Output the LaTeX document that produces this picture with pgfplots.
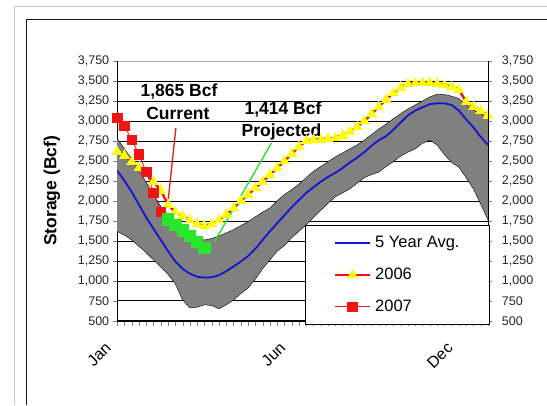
\documentclass[border=0pt]{standalone}
\usepackage{pgfplots}
\pgfplotsset{compat=1.18}
\usepackage{pgfplotstable}
\usepgfplotslibrary{fillbetween}
\usepackage{fontspec}
\setmainfont{Liberation Sans}

\definecolor{bandgray}{RGB}{128,128,128}
\definecolor{avgblue}{RGB}{20,20,210}
\definecolor{sred}{RGB}{240,20,20}
\definecolor{syellow}{RGB}{255,255,0}
\definecolor{sgreen}{RGB}{40,230,40}

% weekly storage, Bcf
\pgfplotstableread{
w  avg   y06   mx    mn
0  2380  2617  2780  1617
1  2250  2570  2650  1570
2  2110  2490  2520  1510
3  1950  2420  2380  1430
4  1790  2340  2230  1350
5  1650  2240  2080  1260
6  1510  2130  1930  1170
7  1370  1950  1820  1080
8  1240  1860  1730  960
9  1150  1810  1660  760
10 1090  1760  1590  660
11 1050  1710  1540  670
12 1040  1690  1510  700
13 1045  1710  1530  690
14 1070  1760  1560  650
15 1120  1830  1600  700
16 1180  1910  1640  760
17 1240  2000  1690  840
18 1310  2080  1740  910
19 1400  2160  1800  1020
20 1510  2240  1860  1150
21 1620  2330  1910  1260
22 1720  2410  2000  1370
23 1820  2500  2080  1440
24 1920  2590  2140  1540
25 2010  2680  2210  1620
26 2100  2750  2290  1700
27 2170  2770  2370  1790
28 2240  2770  2430  1880
29 2300  2780  2490  1970
30 2350  2790  2550  2050
31 2410  2820  2600  2100
32 2480  2866  2650  2150
33 2540  2930  2700  2220
34 2610  3000  2760  2290
35 2690  3090  2830  2330
36 2760  3180  2900  2360
37 2810  3270  2960  2430
38 2890  3350  3030  2490
39 2980  3420  3090  2560
40 3070  3465  3150  2610
41 3130  3475  3200  2650
42 3170  3480  3250  2720
43 3210  3478  3300  2760
44 3220  3470  3335  2700
45 3220  3450  3330  2580
46 3200  3430  3310  2480
47 3130  3390  3280  2420
48 3020  3240  3200  2290
49 2920  3175  3140  2150
50 2800  3130  3090  1960
51 2700  3070  3050  1760
}\storage

\pgfplotsset{
  storaxis/.style={
    at={(117.3pt,84pt)}, anchor=south west,
    scale only axis, width=371pt, height=260pt,
    xmin=0, xmax=51, ymin=500, ymax=3750,
    ytick={500,750,...,3750},
    tick align=outside, major tick length=4.5pt,
    /pgf/number format/assume math mode=true,
    /pgf/number format/1000 sep={,},
    yticklabel style={font=\fontsize{12.5}{14}\selectfont, text=black!85},
  },
}

\begin{document}
\begin{tikzpicture}
\path (0,0) rectangle (547pt,405pt);
\draw[black!22, line width=0.8pt] (14pt,0pt) -- (14pt,398.3pt) -- (547pt,398.3pt);
\draw[black!90, line width=0.8pt] (26pt,0pt) -- (26pt,386pt) -- (547pt,386pt);

\begin{axis}[storaxis,
  set layers,
  axis x line*=bottom, axis y line*=left,
  ytick={500,750,...,3500},
  extra y ticks={3750},
  extra y tick style={major grid style={black!30, line width=0.6pt}},
  ymajorgrids, major grid style={black, line width=0.6pt},
  xtick={0,24,47}, xticklabels={Jan,Jun,Dec},
  minor xtick={0,...,51}, minor tick length=5pt,
  xticklabel style={font=\fontsize{16}{18}\selectfont, xshift=-13pt, yshift=-16pt,
    rotate=45, anchor=north east, inner sep=0pt},
  ylabel={Storage (Bcf)},
  ylabel style={at={(axis description cs:0,0.5)}, anchor=center, yshift=65.3pt,
    font=\fontsize{17.5}{20}\selectfont\bfseries},
  legend cell align=left,
  legend image code/.code={\draw[mark repeat=2,mark phase=2,#1] plot coordinates {(0pt,0pt) (17.5pt,0pt) (35pt,0pt)};},
  legend style={at={(rel axis cs:1,0)}, anchor=south east, xshift=2pt, yshift=-4pt,
    draw=black, line width=0.8pt, fill=white,
    font=\fontsize{16.5}{19}\selectfont,
    inner xsep=28pt, inner ysep=9pt, row sep=15pt, column sep=2pt},
]
\addplot[name path=mx, black, line width=0.4pt, forget plot] table[x=w, y=mx] {\storage};
\addplot[name path=mn, black, line width=0.4pt, forget plot] table[x=w, y=mn] {\storage};
\addplot[bandgray, forget plot] fill between[of=mx and mn];

\addplot[avgblue, line width=1.8pt] table[x=w, y=avg] {\storage};
\addlegendentry{5 Year Avg.}
\addplot[sred, line width=2.4pt, mark=triangle*, mark size=5.5pt,
  mark options={fill=syellow, draw=syellow, line width=0pt}] table[x=w, y=y06] {\storage};
\addlegendentry{2006}
\addplot[sred, line width=0.8pt, mark=square*, mark size=4.7pt, mark options={fill=sred, draw=sred}] coordinates {
(0,3040) (1,2940) (2,2760) (3,2580) (4,2360) (5,2100) (6,1865)
};
\addlegendentry{2007}
\addplot[sgreen, line width=0.8pt, mark=square*, mark size=5.7pt, mark options={fill=sgreen, draw=sgreen}, forget plot] coordinates {
(7,1770) (8,1700) (9,1630) (10,1560) (11,1490) (12,1414)
};

\draw[sred, line width=1.3pt] (axis cs:8.07,2912) -- (axis cs:6.97,1975);
\draw[sgreen, line width=1.4pt] (axis cs:21.2,2721) -- (axis cs:13.4,1491);
\node[font=\fontsize{17.5}{20}\selectfont\bfseries] at (axis cs:8.5,3369) {1,865 Bcf};
\node[font=\fontsize{17.5}{20}\selectfont\bfseries] at (axis cs:8.35,3087) {Current};
\node[font=\fontsize{17.5}{20}\selectfont\bfseries] at (axis cs:22.8,3137) {1,414 Bcf};
\node[font=\fontsize{17.5}{20}\selectfont\bfseries] at (axis cs:22.6,2856) {Projected};
\end{axis}

\begin{axis}[storaxis,
  axis y line*=right, axis x line=none, xtick=\empty,
  yticklabel style={xshift=6pt},
]
\addplot[draw=none, forget plot] table[x=w, y=avg] {\storage};
\end{axis}
\end{tikzpicture}
\end{document}
